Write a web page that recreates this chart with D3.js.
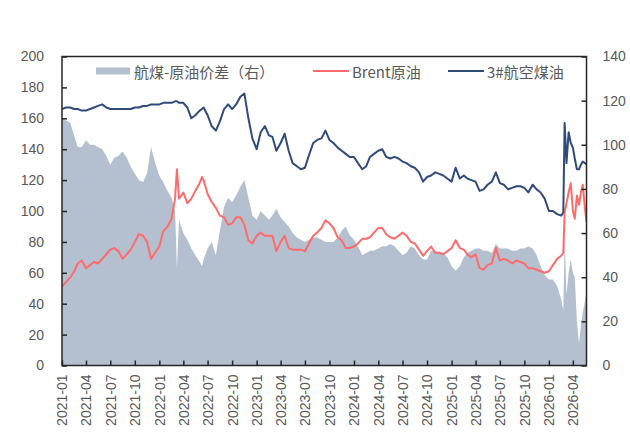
<!DOCTYPE html>
<html>
<head>
<meta charset="utf-8">
<script src="https://cdn.jsdelivr.net/npm/d3@7"></script>
<style>
body{margin:0;background:#fff;}
svg text{font-family:"Liberation Sans",Arial,sans-serif;fill:#595959;}
.legend text{font-family:"Noto Sans CJK SC",sans-serif;}
</style>
</head>
<body>
<div id="chart"></div>
<script>
// dates (roughly semi-monthly, a few extra points where the lines spike)
const dates = [
  "2021-01-01","2021-01-16","2021-02-01","2021-02-16","2021-03-01","2021-03-16","2021-04-01","2021-04-16","2021-05-01","2021-05-16","2021-06-01","2021-06-16",
  "2021-07-01","2021-07-16","2021-08-01","2021-08-16","2021-09-01","2021-09-16","2021-10-01","2021-10-16","2021-11-01","2021-11-16","2021-12-01","2021-12-16",
  "2022-01-01","2022-01-16","2022-02-01","2022-02-16","2022-03-01","2022-03-08","2022-03-16","2022-04-01","2022-04-16","2022-05-01","2022-05-16","2022-06-01","2022-06-10",
  "2022-06-16","2022-07-01","2022-07-16","2022-08-01","2022-08-16","2022-09-01","2022-09-16","2022-10-01","2022-10-16","2022-11-01","2022-11-16","2022-12-01","2022-12-16",
  "2023-01-01","2023-01-16","2023-02-01","2023-02-16","2023-03-01","2023-03-16","2023-04-01","2023-04-16","2023-05-01","2023-05-16","2023-06-01","2023-06-16",
  "2023-07-01","2023-07-16","2023-08-01","2023-08-16","2023-09-01","2023-09-16","2023-10-01","2023-10-16","2023-11-01","2023-11-16","2023-12-01","2023-12-16",
  "2024-01-01","2024-01-16","2024-02-01","2024-02-16","2024-03-01","2024-03-16","2024-04-01","2024-04-16","2024-05-01","2024-05-16","2024-06-01","2024-06-16",
  "2024-07-01","2024-07-16","2024-08-01","2024-08-16","2024-09-01","2024-09-16","2024-10-01","2024-10-16","2024-11-01","2024-11-16","2024-12-01","2024-12-16",
  "2025-01-01","2025-01-16","2025-02-01","2025-02-16","2025-03-01","2025-03-16","2025-04-01","2025-04-16","2025-05-01","2025-05-16","2025-06-01","2025-06-16",
  "2025-07-01","2025-07-16","2025-08-01","2025-08-16","2025-09-01","2025-09-16","2025-10-01","2025-10-16","2025-11-01","2025-11-16","2025-12-01","2025-12-16",
  "2026-01-01","2026-01-16","2026-02-01","2026-02-16","2026-02-24","2026-03-01","2026-03-08","2026-03-16","2026-03-24","2026-04-01","2026-04-08","2026-04-16",
  "2026-04-24","2026-05-01","2026-05-08","2026-05-16","2026-05-22"
];

// Brent原油 (left axis)
const brent = [
  51,54,57,61,66,68,63,65,67,66,69,72,75,76,74,69,72,75,80,85,84,80,69,73,
  77,87,90,95,108,127,108,112,105,108,113,118,122,120,111,106,102,97,96,91,92,96,96,91,81,79,
  84,86,84,84,84,74,80,84,76,75,75,75,74,79,84,86,89,94,92,89,83,81,76,76,
  77,79,82,82,83,86,89,89,85,83,82,84,86,84,80,79,75,71,74,77,73,73,72,74,
  76,81,76,75,72,70,72,63,62,65,66,76,68,69,68,66,68,67,66,63,63,62,61,60,
  61,65,69,71,73,99,105,112,118,100,95,110,104,112,117,102,93
];

// 3#航空煤油 (left axis)
const jetFuel = [
  166,167,167,166,166,165,165,166,167,168,169,167,166,166,166,166,166,166,167,167,168,168,169,169,
  169,170,170,170,171,171,170,170,167,160,162,165,166,167,162,155,152,158,166,169,166,169,174,176,160,147,
  140,151,155,149,148,139,144,150,139,131,129,127,128,136,144,146,147,152,146,144,141,139,137,135,
  135,131,127,129,135,137,139,140,135,134,135,134,132,131,129,128,125,119,122,123,125,124,123,121,
  119,128,121,123,121,120,119,113,114,117,119,125,118,117,114,115,116,116,115,112,117,114,112,108,
  100,100,98,97,99,157,131,151,144,141,134,127,127,130,132,131,130
];

// 航煤-原油价差 (right axis)
const spread = [
  112,111,110,104,99,99,102,100,100,99,98,95,91,94,95,97,94,90,87,84,83,87,99,92,
  86,83,79,76,70,44,66,60,57,53,50,47,45,48,53,56,50,61,72,76,74,77,81,84,76,68,
  66,70,68,66,68,71,67,65,63,60,58,57,56,57,58,58,57,56,56,56,58,61,63,59,
  57,54,50,51,52,52,53,54,54,55,54,52,50,51,54,53,50,48,48,52,52,51,51,49,
  45,43,45,49,51,52,53,53,52,52,51,55,53,53,53,52,52,53,53,54,53,50,45,41,
  39,39,36,30,25,58,32,42,48,42,40,20,10,18,24,29,33
];

const seriesNames = ["航煤-原油价差（右）","Brent原油","3#航空煤油"];
const seriesColors = ["#b4bfcf","#ff6b6b","#2f4b7c"];
const leftTicks = [0,20,40,60,80,100,120,140,160,180,200];
const rightTicks = [0,20,40,60,80,100,120,140];
const xTickLabels = ["2021-01","2021-04","2021-07","2021-10","2022-01","2022-04","2022-07","2022-10",
  "2023-01","2023-04","2023-07","2023-10","2024-01","2024-04","2024-07","2024-10",
  "2025-01","2025-04","2025-07","2025-10","2026-01","2026-04"];

const width = 630, height = 432;
const margin = {top:56.5, right:43.5, bottom:66.5, left:62};

const parse = d3.timeParse("%Y-%m-%d");
const data = dates.map((d,i)=>({date:parse(d), brent:brent[i], jet:jetFuel[i], spread:spread[i]}));

const x = d3.scaleTime()
  .domain(d3.extent(data, d=>d.date))
  .range([margin.left, width-margin.right]);
const yL = d3.scaleLinear().domain([0,200]).range([height-margin.bottom, margin.top]);
const yR = d3.scaleLinear().domain([0,140]).range([height-margin.bottom, margin.top]);

const svg = d3.select("#chart").append("svg")
  .attr("width", width)
  .attr("height", height);

svg.append("clipPath").attr("id","plot")
  .append("rect")
  .attr("x", margin.left).attr("y", margin.top)
  .attr("width", width-margin.left-margin.right)
  .attr("height", height-margin.top-margin.bottom);

const plot = svg.append("g").attr("clip-path","url(#plot)");

// spread area on right axis
plot.append("path")
  .datum(data)
  .attr("fill", seriesColors[0])
  .attr("d", d3.area().x(d=>x(d.date)).y0(yR(0)).y1(d=>yR(d.spread)));

plot.append("path")
  .datum(data)
  .attr("fill","none")
  .attr("stroke", seriesColors[1])
  .attr("stroke-width", 2)
  .attr("stroke-linejoin","round")
  .attr("d", d3.line().x(d=>x(d.date)).y(d=>yL(d.brent)));

plot.append("path")
  .datum(data)
  .attr("fill","none")
  .attr("stroke", seriesColors[2])
  .attr("stroke-width", 2)
  .attr("stroke-linejoin","round")
  .attr("d", d3.line().x(d=>x(d.date)).y(d=>yL(d.jet)));

// frame
svg.append("rect")
  .attr("x", margin.left).attr("y", margin.top)
  .attr("width", width-margin.left-margin.right)
  .attr("height", height-margin.top-margin.bottom)
  .attr("fill","none")
  .attr("stroke","#262626")
  .attr("stroke-width",1.5);

// axes, ticks pointing inward (font-size set after .call, the axis resets it)
const xaxis = svg.append("g")
  .attr("transform", `translate(0,${height-margin.bottom})`)
  .call(d3.axisBottom(x)
    .tickValues(xTickLabels.map(s=>parse(s+"-01")))
    .tickFormat(d3.timeFormat("%Y-%m"))
    .tickSizeInner(-5).tickSizeOuter(0))
  .attr("color","#262626")
  .attr("font-size",14);
xaxis.select(".domain").remove();
xaxis.selectAll("line").attr("stroke-width",1.5);
xaxis.selectAll("text")
  .attr("transform","rotate(-90)")
  .attr("text-anchor","end")
  .attr("x",-9).attr("y",0).attr("dy","0.35em");

const yaxisL = svg.append("g")
  .attr("transform", `translate(${margin.left},0)`)
  .call(d3.axisLeft(yL).tickValues(leftTicks).tickSizeInner(-5).tickSizeOuter(0).tickPadding(18))
  .attr("color","#262626")
  .attr("font-size",14);
yaxisL.select(".domain").remove();
yaxisL.selectAll("line").attr("stroke-width",1.5);

const yaxisR = svg.append("g")
  .attr("transform", `translate(${width-margin.right},0)`)
  .call(d3.axisRight(yR).tickValues(rightTicks).tickSizeInner(-5).tickSizeOuter(0).tickPadding(16))
  .attr("color","#262626")
  .attr("font-size",14);
yaxisR.select(".domain").remove();
yaxisR.selectAll("line").attr("stroke-width",1.5);

// legend
const legend = svg.append("g").attr("class","legend").attr("font-size",15);
const legendX = [96, 313, 448];
const legendY = 71;
legend.append("rect")
  .attr("x", legendX[0]).attr("y", legendY-3.5)
  .attr("width", 34).attr("height", 7)
  .attr("fill", seriesColors[0]);
[1,2].forEach(i=>{
  legend.append("line")
    .attr("x1", legendX[i]).attr("x2", legendX[i]+36)
    .attr("y1", legendY).attr("y2", legendY)
    .attr("stroke", seriesColors[i]).attr("stroke-width",2);
});
seriesNames.forEach((name,i)=>{
  legend.append("text")
    .attr("x", legendX[i] + (i===0 ? 38 : 39))
    .attr("y", legendY)
    .attr("dominant-baseline","central")
    .text(name);
});
</script>
</body>
</html>
